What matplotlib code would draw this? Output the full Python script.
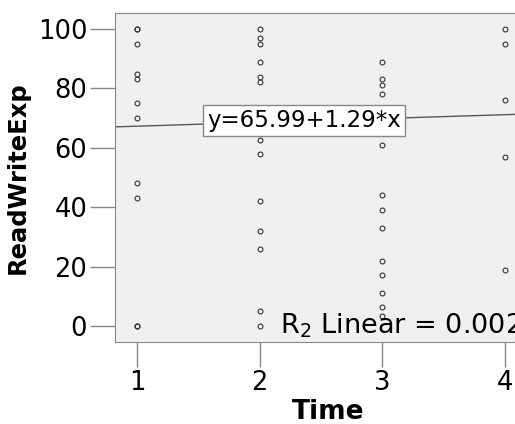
import numpy as np
import matplotlib.pyplot as plt

# values
time_1 = [100, 100, 95, 85, 83, 75, 70, 48, 43, 0, 0]
time_2 = [100, 97, 95, 89, 84, 82, 62.5, 58, 42, 32, 26, 5, 0]
time_3 = [89, 83, 81, 78, 61, 44, 39, 33, 22, 17, 11, 6.5, 3.5]
time_4 = [100, 95, 76, 57, 19]
intercept = 65.99
slope = 1.29
r2 = 0.002

xs = []
ys = []
for t, vals in zip([1, 2, 3, 4], [time_1, time_2, time_3, time_4]):
    xs += [t] * len(vals)
    ys += vals

fig = plt.figure(figsize=(5.15, 4.24), dpi=100)
ax = fig.add_axes([0.2233, 0.1934, 0.829, 0.776])
ax.set_facecolor('#f0f0f0')

ax.plot(xs, ys, 'o', mfc='none', mec='#333333', ms=3.5, mew=0.8, zorder=3)

xl = (0.821, 4.3)
xline = np.array(xl)
ax.plot(xline, intercept + slope * xline, color='#555555', lw=1, zorder=2)

ax.set_xlim(xl)
ax.set_ylim(-5.4, 105.4)
ax.set_xticks([1, 2, 3, 4])
ax.set_yticks([0, 20, 40, 60, 80, 100])
ax.tick_params(axis='both', labelsize=18.5, length=18, width=1, color='#888888', pad=2)

for s in ['top', 'left', 'bottom']:
    ax.spines[s].set_color('#888888')
ax.spines['right'].set_visible(False)

ax.set_xlabel('Time', fontsize=19, fontweight='bold', labelpad=2)
ax.set_ylabel('ReadWriteExp', fontsize=17.5, fontweight='bold', labelpad=6)

ax.text(2.36, 69.3, 'y=%.2f+%.2f*x' % (intercept, slope), fontsize=16.5,
        ha='center', va='center', zorder=4,
        bbox=dict(boxstyle='square,pad=0.18', fc='white', ec='#888888', lw=1))
ax.text(2.166, -2.4, 'R$_2$ Linear = %.3f' % r2, fontsize=19.5,
        ha='left', va='baseline', zorder=4)

fig.savefig('out.png', dpi=100)
